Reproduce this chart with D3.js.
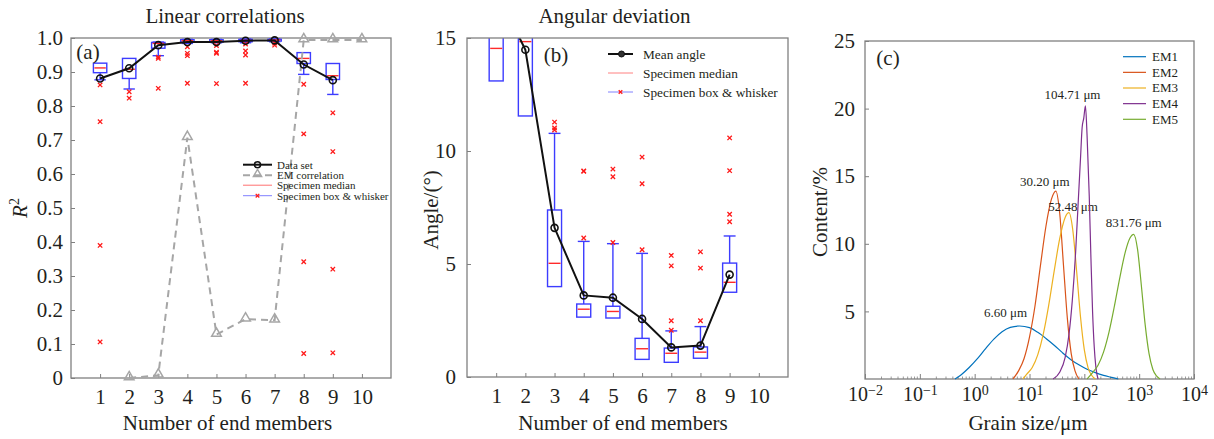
<!DOCTYPE html>
<html><head><meta charset="utf-8">
<script src="https://cdn.jsdelivr.net/npm/d3@7"></script>
<style>
body{margin:0;background:#fff;}
svg{display:block;}
text{font-family:"Liberation Serif","Times New Roman",serif;fill:#231f20;}
</style></head><body>
<svg id="chart" width="1214" height="439"></svg>
<script>
// ================= DATA =================
const endMembers = [1,2,3,4,5,6,7,8,9,10];
const boxMembers = [1,2,3,4,5,6,7,8,9];
const r2Ticks = [0,0.1,0.2,0.3,0.4,0.5,0.6,0.7,0.8,0.9,1.0];
const angleTicks = [0,5,10,15];
const contentTicks = [5,10,15,20,25];
const grainTicks = [0.01,0.1,1,10,100,1000,10000];
const grainTickExp = ["\u22122","\u22121","0","1","2","3","4"];

// (a) Linear correlations
const dataSetR2 = [0.881,0.911,0.979,0.988,0.988,0.992,0.993,0.922,0.876];
const emCorrelation = [null,0.0,0.008,0.707,0.128,0.173,0.170,0.994,0.994,0.994];
const r2Q1  = [0.898,0.881,0.970,0.988,0.988,0.989,0.991,0.925,0.878];
const r2Med = [0.912,0.908,0.984,0.992,0.992,0.993,0.994,0.940,0.889];
const r2Q3  = [0.926,0.940,0.987,0.995,0.995,0.996,0.996,0.957,0.925];
const r2WLo = [0.877,0.850,0.948,0.984,0.986,0.986,0.989,0.893,0.834];
const r2WHi = [0.926,0.940,0.988,0.996,0.996,0.997,0.997,0.957,0.925];
const r2Outliers = [
  [0.862,0.754,0.390,0.106],
  [0.842,0.823],
  [0.944,0.940,0.852],
  [0.974,0.955,0.948,0.867],
  [0.978,0.958,0.955,0.866],
  [0.982,0.962,0.950,0.867],
  [0.985,0.979],
  [0.864,0.718,0.342,0.072],
  [0.780,0.666,0.320,0.074]
];

// (b) Angular deviation
const meanAngle = [17.1,14.48,6.6,3.61,3.51,2.57,1.31,1.39,4.53];
const angQ1  = [13.1,11.55,4.0,2.65,2.61,0.78,0.65,0.83,3.75];
const angMed = [14.54,14.84,5.03,3.0,2.9,1.25,1.05,1.1,4.19];
const angQ3  = [16.5,17.0,7.39,3.23,3.13,1.71,1.28,1.33,5.04];
const angWLo = [13.1,11.55,4.0,2.65,2.61,0.78,0.65,0.83,3.75];
const angWHi = [16.5,17.0,10.78,6.0,5.9,5.47,2.04,2.23,6.24];
const angOutliers = [
  [],[],
  [11.28,11.02,10.93],
  [6.15,9.12,9.1],
  [5.95,9.2,8.86],
  [5.63,8.55,9.73],
  [2.07,2.49,4.92,5.38],
  [2.49,4.82,5.54],
  [6.87,7.2,9.13,10.58]
];

// (c) End-member grain-size distributions (grain size in µm, content in %)
const emNames = ["EM1","EM2","EM3","EM4","EM5"];
const em1Size = [0.437,0.562,0.794,1.122,1.585,2.239,3.162,4.467,6.607,10,14.13,19.95,28.18,39.81,56.23,79.43,112.2,158.5,223.9,316.2,416.9];
const em1Val  = [0,0.3,0.85,1.5,2.25,2.95,3.5,3.82,3.92,3.8,3.45,3.0,2.5,1.95,1.45,1.05,0.72,0.47,0.27,0.12,0];
const em2Size = [5.01,6.31,7.94,10,12.59,15.85,19.95,25.12,30.20,35.48,41.69,48.98,57.54,67.61,79.43];
const em2Val  = [0,0.6,1.5,3.1,5.4,8.4,11.3,13.3,13.9,12.3,8.4,4.5,1.9,0.6,0];
const em3Size = [7.59,8.91,11.22,14.13,17.78,22.39,28.18,35.48,44.67,52.48,61.66,72.44,85.11,100,117.5,138.0,158.5];
const em3Val  = [0,0.36,0.85,1.78,3.3,5.45,7.98,10.36,11.95,12.3,11.0,7.95,4.6,2.15,0.81,0.24,0];
const em4Size = [26.9,35.5,44.7,52.5,60.3,69.2,77.6,85.1,91.2,97.7,104.71,112.2,123.0,131.8,141.3,151.4,162.2,177.8];
const em4Val  = [0,0.5,1.6,3.3,5.8,9.3,13.2,16.3,18.6,19.3,20.2,18.0,13.5,9.0,5.0,2.4,0.9,0];
const em5Size = [112.2,141.3,177.8,223.9,281.8,354.8,446.7,562.3,676.1,794.3,933.3,1096,1288,1514,1778,2089,2399];
const em5Val  = [0,0.47,1.02,1.99,3.47,5.42,7.56,9.44,10.41,10.7,9.6,6.92,4.0,1.87,0.7,0.21,0];
const peakLabels = ["6.60 \u03bcm","30.20 \u03bcm","52.48 \u03bcm","104.71 \u03bcm","831.76 \u03bcm"];

// ================= DRAWING =================
const svg = d3.select("#chart");
const frameColor = "#808080";
const boxBlue = "#3c3cff";
const medRed = "#ff2a2a";
const outRed = "#ff1a1a";
const emColors = ["#0072BD","#D95319","#EDB120","#7E2F8E","#77AC30"];

function frame(x0,x1,y0,y1){
  svg.append("rect").attr("x",x0).attr("y",y0).attr("width",x1-x0).attr("height",y1-y0)
    .attr("fill","none").attr("stroke",frameColor).attr("stroke-width",1.3);
}
function styleAxis(g, fs){
  g.select(".domain").remove();
  g.selectAll(".tick line").attr("stroke",frameColor).attr("stroke-width",1);
  g.selectAll(".tick text").attr("font-size",fs).attr("fill","#231f20")
    .attr("font-family",'"Liberation Serif","Times New Roman",serif');
}
function txt(x,y,s,fs,anchor){
  return svg.append("text").attr("x",x).attr("y",y).attr("font-size",fs)
    .attr("text-anchor",anchor||"middle").text(s);
}
function xMark(g,cx,cy,s,color){
  g.append("path").attr("d",`M${cx-s},${cy-s}L${cx+s},${cy+s}M${cx-s},${cy+s}L${cx+s},${cy-s}`)
    .attr("stroke",color).attr("stroke-width",1.3).attr("fill","none");
}
function drawBoxes(g,x,y,q1,med,q3,wlo,whi,outs,bw){
  boxMembers.forEach((m,i)=>{
    const cx = x(m), hw = x(bw/2)-x(0), cw = hw*0.85;
    if (whi[i] > q3[i]) {
      g.append("line").attr("x1",cx).attr("x2",cx).attr("y1",y(q3[i])).attr("y2",y(whi[i])).attr("stroke",boxBlue).attr("stroke-width",1.4);
      g.append("line").attr("x1",cx-cw).attr("x2",cx+cw).attr("y1",y(whi[i])).attr("y2",y(whi[i])).attr("stroke",boxBlue).attr("stroke-width",1.4);
    }
    if (wlo[i] < q1[i]) {
      g.append("line").attr("x1",cx).attr("x2",cx).attr("y1",y(q1[i])).attr("y2",y(wlo[i])).attr("stroke",boxBlue).attr("stroke-width",1.4);
      g.append("line").attr("x1",cx-cw).attr("x2",cx+cw).attr("y1",y(wlo[i])).attr("y2",y(wlo[i])).attr("stroke",boxBlue).attr("stroke-width",1.4);
    }
    g.append("rect").attr("x",cx-hw).attr("y",y(q3[i])).attr("width",2*hw)
      .attr("height",Math.max(1,y(q1[i])-y(q3[i]))).attr("fill","none").attr("stroke",boxBlue).attr("stroke-width",1.4);
    g.append("line").attr("x1",cx-hw+1).attr("x2",cx+hw-1).attr("y1",y(med[i])).attr("y2",y(med[i])).attr("stroke",medRed).attr("stroke-width",1.4);
    outs[i].forEach(v=>xMark(g,cx,y(v),2.2,outRed));
  });
}

// ---------- Panel (a) ----------
const xA = d3.scaleLinear().domain([0,11]).range([71,391]);
const yA = d3.scaleLinear().domain([0,1]).range([378,38]);
svg.append("g").attr("transform",`translate(0,${yA(0)})`)
  .call(d3.axisBottom(xA).tickValues(endMembers).tickSizeInner(-4).tickSizeOuter(0).tickPadding(11))
  .call(g=>styleAxis(g,21));
svg.append("g").attr("transform",`translate(${xA(0)},0)`)
  .call(d3.axisLeft(yA).tickValues(r2Ticks).tickSizeInner(-4).tickSizeOuter(0).tickPadding(8)
    .tickFormat(d=>d===0?"0":d3.format(".1f")(d)))
  .call(g=>styleAxis(g,21));
frame(71,391,38,378);
const gA = svg.append("g");
drawBoxes(gA,xA,yA,r2Q1,r2Med,r2Q3,r2WLo,r2WHi,r2Outliers,0.46);
// EM correlation
const emPts = endMembers.map((m,i)=>[m,emCorrelation[i]]);
gA.append("path").datum(emPts)
  .attr("d",d3.line().defined(d=>d[1]!==null).x(d=>xA(d[0])).y(d=>yA(d[1])))
  .attr("fill","none").attr("stroke","#a6a6a6").attr("stroke-width",2).attr("stroke-dasharray","7,5");
const tri = d3.symbol().type(d3.symbolTriangle).size(40);
gA.selectAll(".tri").data(emPts.filter(d=>d[1]!==null)).enter().append("path")
  .attr("d",tri).attr("transform",d=>`translate(${xA(d[0])},${yA(d[1])-1})`)
  .attr("fill","none").attr("stroke","#a6a6a6").attr("stroke-width",1.5);
// Data set
const dsPts = boxMembers.map((m,i)=>[m,dataSetR2[i]]);
gA.append("path").datum(dsPts).attr("d",d3.line().x(d=>xA(d[0])).y(d=>yA(d[1])))
  .attr("fill","none").attr("stroke","#111").attr("stroke-width",2);
gA.selectAll(".ds").data(dsPts).enter().append("circle")
  .attr("cx",d=>xA(d[0])).attr("cy",d=>yA(d[1])).attr("r",3.5)
  .attr("fill","none").attr("stroke","#111").attr("stroke-width",1.6);
txt(88,59,"(a)",21);
// legend (a)
{
  const lx0=243, lx1=272, tx=277, ys=[164.7,175.2,185.2,195.7], fs=11;
  svg.append("line").attr("x1",lx0).attr("x2",lx1).attr("y1",ys[0]).attr("y2",ys[0]).attr("stroke","#111").attr("stroke-width",2);
  svg.append("circle").attr("cx",(lx0+lx1)/2).attr("cy",ys[0]).attr("r",3).attr("fill","none").attr("stroke","#111").attr("stroke-width",1.6);
  svg.append("line").attr("x1",lx0).attr("x2",lx1).attr("y1",ys[1]).attr("y2",ys[1]).attr("stroke","#a6a6a6").attr("stroke-width",2).attr("stroke-dasharray","7,4");
  svg.append("path").attr("d",d3.symbol().type(d3.symbolTriangle).size(30)).attr("transform",`translate(${(lx0+lx1)/2},${ys[1]-1})`).attr("fill","none").attr("stroke","#a6a6a6").attr("stroke-width",1.4);
  svg.append("line").attr("x1",lx0).attr("x2",lx1).attr("y1",ys[2]).attr("y2",ys[2]).attr("stroke","#ff7070").attr("stroke-width",1);
  svg.append("line").attr("x1",lx0).attr("x2",lx1).attr("y1",ys[3]).attr("y2",ys[3]).attr("stroke","#8080ff").attr("stroke-width",1);
  xMark(svg,(lx0+lx1)/2,ys[3],1.8,outRed);
  ["Data set","EM correlation","Specimen median","Specimen box & whisker"].forEach((s,i)=>
    txt(tx,ys[i]+3.8,s,fs,"start"));
}
txt(225,23,"Linear correlations",21);
txt(227.5,430,"Number of end members",21);
{
  const t = svg.append("text").attr("transform","translate(27,208) rotate(-90)").attr("text-anchor","middle").attr("font-size",21);
  t.append("tspan").attr("font-style","italic").text("R");
  t.append("tspan").attr("dy",-8).attr("font-size",14).text("2");
}

// ---------- Panel (b) ----------
const xB = d3.scaleLinear().domain([0,11]).range([467,788]);
const yB = d3.scaleLinear().domain([0,15]).range([377,38]);
svg.append("g").attr("transform",`translate(0,${yB(0)})`)
  .call(d3.axisBottom(xB).tickValues(endMembers).tickSizeInner(-4).tickSizeOuter(0).tickPadding(11))
  .call(g=>styleAxis(g,21));
svg.append("g").attr("transform",`translate(${xB(0)},0)`)
  .call(d3.axisLeft(yB).tickValues(angleTicks).tickSizeInner(-4).tickSizeOuter(0).tickPadding(11))
  .call(g=>styleAxis(g,21));
svg.append("defs").append("clipPath").attr("id","clipB").append("rect")
  .attr("x",467).attr("y",38).attr("width",321).attr("height",339);
const gB = svg.append("g").attr("clip-path","url(#clipB)");
drawBoxes(gB,xB,yB,angQ1,angMed,angQ3,angWLo,angWHi,angOutliers,0.48);
const maPts = boxMembers.map((m,i)=>[m,meanAngle[i]]);
gB.append("path").datum(maPts).attr("d",d3.line().x(d=>xB(d[0])).y(d=>yB(d[1])))
  .attr("fill","none").attr("stroke","#111").attr("stroke-width",2);
gB.selectAll(".ma").data(maPts).enter().append("circle")
  .attr("cx",d=>xB(d[0])).attr("cy",d=>yB(d[1])).attr("r",3.5)
  .attr("fill","none").attr("stroke","#111").attr("stroke-width",1.6);
frame(467,788,38,377);
txt(556,62,"(b)",21);
{
  const lx0=608, lx1=633, tx=643, ys=[54,73,92], fs=13.3;
  svg.append("line").attr("x1",lx0).attr("x2",lx1).attr("y1",ys[0]).attr("y2",ys[0]).attr("stroke","#111").attr("stroke-width",2);
  svg.append("circle").attr("cx",(lx0+lx1)/2+1).attr("cy",ys[0]).attr("r",3).attr("fill","#333").attr("stroke","#111");
  svg.append("line").attr("x1",lx0).attr("x2",lx1).attr("y1",ys[1]).attr("y2",ys[1]).attr("stroke","#ff8080").attr("stroke-width",1);
  svg.append("line").attr("x1",lx0).attr("x2",lx1).attr("y1",ys[2]).attr("y2",ys[2]).attr("stroke","#8080ff").attr("stroke-width",1);
  xMark(svg,(lx0+lx1)/2,ys[2],1.8,outRed);
  ["Mean angle","Specimen median","Specimen box & whisker"].forEach((s,i)=>txt(tx,ys[i]+4.5,s,fs,"start"));
}
txt(614.5,23,"Angular deviation",21);
txt(623,430,"Number of end members",21);
svg.append("text").attr("transform","translate(438,210) rotate(-90)").attr("text-anchor","middle").attr("font-size",21).text("Angle/(\u00b0)");

// ---------- Panel (c) ----------
const xC = d3.scaleLog().domain([0.01,10000]).range([865,1194]);
const yC = d3.scaleLinear().domain([0,25]).range([379,41]);
{
  const minor = [];
  grainTicks.slice(0,-1).forEach(t=>{ for(let k=2;k<=9;k++) minor.push(t*k); });
  const gx = svg.append("g").attr("transform",`translate(0,${yC(0)})`);
  gx.call(d3.axisBottom(xC).tickValues(grainTicks).tickSizeInner(-5).tickSizeOuter(0).tickPadding(8).tickFormat(()=>""))
    .call(g=>styleAxis(g,20));
  gx.selectAll(".tick text").each(function(d,i){
    const t=d3.select(this);
    t.append("tspan").text("10");
    t.append("tspan").attr("dy","-0.45em").attr("font-size",14).text(grainTickExp[i]);
  });
  gx.selectAll(".minor").data(minor).enter().append("line")
    .attr("x1",d=>xC(d)).attr("x2",d=>xC(d)).attr("y1",0).attr("y2",-2.5)
    .attr("stroke",frameColor).attr("stroke-width",0.8);
}
svg.append("g").attr("transform",`translate(${xC(0.01)},0)`)
  .call(d3.axisLeft(yC).tickValues(contentTicks).tickSizeInner(-4).tickSizeOuter(0).tickPadding(10))
  .call(g=>styleAxis(g,21));
frame(865,1194,41,379);
const emSeries = [[em1Size,em1Val],[em2Size,em2Val],[em3Size,em3Val],[em4Size,em4Val],[em5Size,em5Val]];
const lineC = d3.line().x(d=>xC(d[0])).y(d=>yC(d[1])).curve(d3.curveMonotoneX);
const labelDx = [-14,-11,4,-13,0], labelDy = [-9,-5,-2,-7,-7];
emSeries.forEach(([sz,vl],k)=>{
  const pts = sz.map((s,i)=>[s,vl[i]]);
  svg.append("path").datum(pts).attr("d",lineC).attr("fill","none")
    .attr("stroke",emColors[k]).attr("stroke-width",1.2);
  const pk = pts.reduce((a,b)=>b[1]>a[1]?b:a);
  txt(xC(pk[0])+labelDx[k], yC(pk[1])+labelDy[k], peakLabels[k], 13);
});
txt(888,65,"(c)",21);
{
  const lx0=1123, lx1=1146, tx=1152;
  emNames.forEach((n,i)=>{
    const y = 56.7 + i*15.65;
    svg.append("line").attr("x1",lx0).attr("x2",lx1).attr("y1",y).attr("y2",y).attr("stroke",emColors[i]).attr("stroke-width",1.2);
    txt(tx,y+4.3,n,13,"start");
  });
}
txt(1028,430,"Grain size/\u03bcm",21);
svg.append("text").attr("transform","translate(827,212) rotate(-90)").attr("text-anchor","middle").attr("font-size",21).text("Content/%");
</script></body></html>
